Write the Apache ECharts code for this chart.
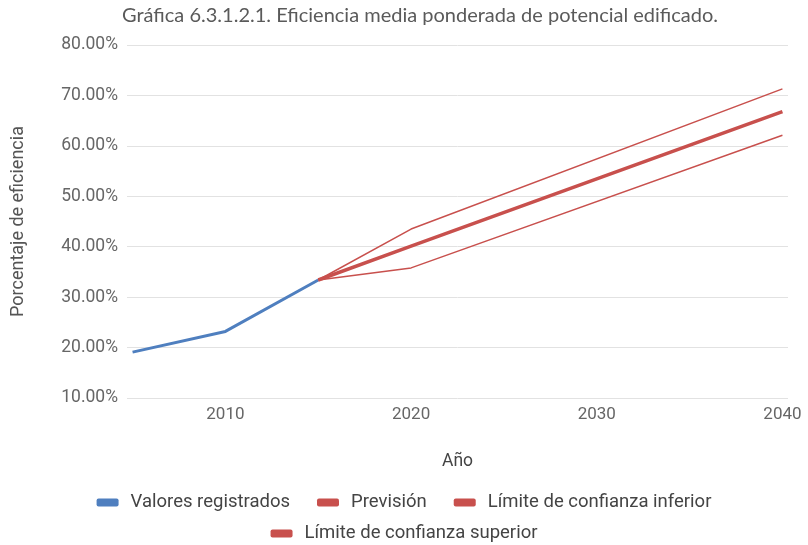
<!DOCTYPE html>
<html>
<head>
<meta charset="utf-8">
<script src="https://cdn.jsdelivr.net/npm/echarts@6/dist/echarts.min.js"></script>
<style>
html,body{margin:0;padding:0;background:#fff;}
#c{width:808px;height:545px;}
</style>
</head>
<body>
<div id="c"></div>
<script>
// Data (percent)
const titleText = 'Gráfica 6.3.1.2.1. Eficiencia media ponderada de potencial edificado.';
const recordedYears = [2005, 2010, 2015];
const recordedValues = [19.1, 23.2, 33.4];
const forecastYears = [2015, 2020, 2040];
const forecastValues = [33.4, 40.1, 66.8];
const lowerValues = [33.4, 35.8, 62.1];
const upperValues = [33.4, 43.5, 71.3];
const xTickLabels = [2010, 2020, 2030, 2040];
const seriesNames = ['Valores registrados', 'Previsión', 'Límite de confianza inferior', 'Límite de confianza superior'];

const pair = (xs, ys) => xs.map((x, i) => [x, ys[i]]);
const BLUE = '#4f7fbf', RED = '#c8504d';
const font = 'Roboto, "Noto Sans", sans-serif';

const legendCommon = {
  left: 'center', itemWidth: 22, itemHeight: 8, itemGap: 27, icon: 'roundRect',
  textStyle: {fontFamily: font, fontSize: 18.5, color: '#444', padding: [0, 0, 0, 7]}
};

const chart = echarts.init(document.getElementById('c'));
chart.setOption({
  animation: false,
  title: {
    text: titleText, left: 117, top: 1,
    textStyle: {fontFamily: 'Lato, "Open Sans", sans-serif', fontSize: 20, fontWeight: 'normal', color: '#5a5a5a'}
  },
  grid: {left: 127, right: 20, top: 45, bottom: 147, outerBoundsMode: 'none'},
  legend: [
    Object.assign({data: seriesNames.slice(0, 3), top: 488}, legendCommon),
    Object.assign({data: seriesNames.slice(3), top: 519}, legendCommon)
  ],
  xAxis: {
    type: 'value', min: 2004.7, max: 2040.3,
    name: 'Año', nameLocation: 'middle', nameGap: 55,
    nameTextStyle: {fontFamily: font, fontSize: 17.5, color: '#444'},
    axisLine: {show: false}, axisTick: {show: false}, splitLine: {show: false},
    axisLabel: {customValues: xTickLabels, fontFamily: font, fontSize: 17, color: '#666', margin: 8,
      formatter: v => String(Math.round(v))}
  },
  yAxis: {
    type: 'value', min: 10, max: 80, interval: 10,
    name: 'Porcentaje de eficiencia', nameLocation: 'middle', nameGap: 100, nameRotate: 90,
    nameTextStyle: {fontFamily: font, fontSize: 18, color: '#555'},
    axisLine: {show: false}, axisTick: {show: false},
    splitLine: {lineStyle: {color: '#e2e2e2', width: 1}},
    axisLabel: {fontFamily: font, fontSize: 17.5, color: '#666', margin: 9, formatter: v => v.toFixed(2) + '%'}
  },
  series: [
    {name: seriesNames[0], type: 'line', data: pair(recordedYears, recordedValues), showSymbol: false,
      lineStyle: {color: BLUE, width: 3}, itemStyle: {color: BLUE}},
    {name: seriesNames[1], type: 'line', data: pair(forecastYears, forecastValues), showSymbol: false,
      lineStyle: {color: RED, width: 3.5}, itemStyle: {color: RED}, z: 3},
    {name: seriesNames[2], type: 'line', data: pair(forecastYears, lowerValues), showSymbol: false,
      lineStyle: {color: RED, width: 1.5}, itemStyle: {color: RED}},
    {name: seriesNames[3], type: 'line', data: pair(forecastYears, upperValues), showSymbol: false,
      lineStyle: {color: RED, width: 1.5}, itemStyle: {color: RED}}
  ]
});
</script>
</body>
</html>
